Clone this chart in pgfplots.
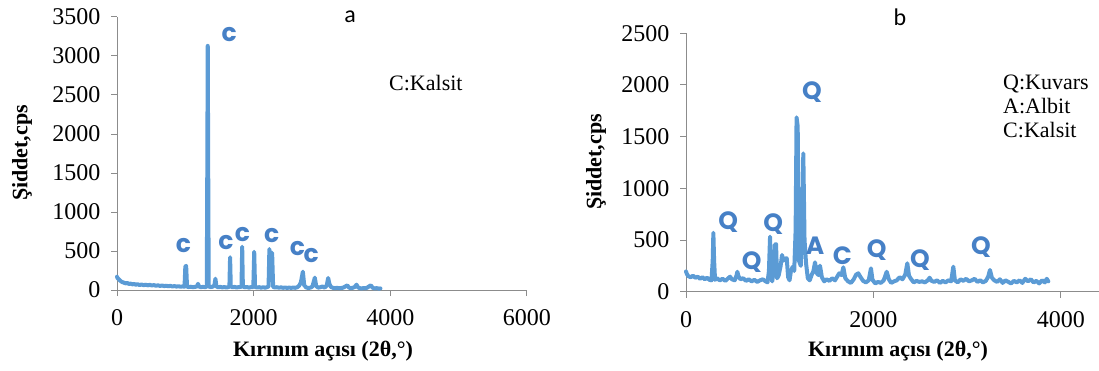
\documentclass[border=0pt]{standalone}
\usepackage{fontspec}
\setmainfont{Liberation Serif}
\newfontfamily\annfont{Poppins}
\newfontfamily\calfont{Carlito}
\usepackage{pgfplots}
\usepackage{pgfplotstable}
\pgfplotsset{compat=1.18}
\definecolor{xrd}{RGB}{91,155,213}
\definecolor{ann}{RGB}{70,128,198}
\definecolor{axgray}{RGB}{140,140,140}

\pgfplotstableread{
x y
0 170
10 150
25 140
40 125
60 110
80 100
100 95
125 85
150 90
175 78
200 82
225 72
250 78
275 68
300 74
330 64
360 70
390 62
420 68
450 60
480 66
510 58
540 63
570 55
600 60
630 52
660 58
690 50
720 55
750 48
780 53
810 46
840 50
870 44
900 48
930 42
960 46
988 42
1000 300
1012 310
1025 42
1050 38
1080 42
1110 36
1140 40
1170 45
1185 80
1200 45
1230 36
1260 40
1290 35
1314 45
1321 1500
1328 3130
1335 1500
1342 45
1370 38
1400 42
1425 60
1440 145
1455 45
1480 35
1510 40
1540 33
1570 38
1600 32
1630 37
1645 45
1655 420
1665 45
1690 35
1720 40
1750 32
1780 37
1810 40
1822 45
1832 555
1842 45
1870 35
1900 38
1930 31
1960 36
1995 38
2008 490
2020 40
2050 32
2080 36
2110 30
2140 35
2170 30
2200 38
2218 45
2230 525
2250 300
2270 478
2285 40
2310 32
2340 36
2370 29
2400 34
2430 28
2460 32
2490 27
2520 31
2550 27
2580 32
2610 28
2640 36
2665 55
2690 95
2720 235
2740 60
2770 32
2800 26
2830 30
2860 45
2895 158
2915 50
2945 30
2975 36
3005 45
3040 30
3070 60
3090 154
3108 80
3130 40
3160 28
3190 24
3220 28
3250 22
3280 26
3310 30
3340 45
3370 60
3395 30
3420 24
3450 28
3480 40
3505 68
3525 35
3550 24
3580 20
3610 25
3640 22
3670 35
3695 50
3715 60
3740 30
3770 20
3800 24
3830 18
3855 20
}\dataA

\pgfplotstableread{
x y
0 195
10 170
25 150
50 140
75 155
100 135
125 145
150 125
175 140
200 120
225 135
250 115
272 110
285 300
292 570
300 300
310 115
330 130
360 110
390 125
420 105
450 130
470 145
490 120
520 110
540 160
548 193
560 150
580 120
610 130
640 105
670 120
700 100
730 115
760 95
790 110
820 120
850 100
870 90
885 200
897 532
908 150
920 100
935 200
950 455
961 461
972 130
990 160
1010 250
1025 355
1040 300
1055 320
1075 323
1090 140
1105 110
1120 200
1139 242
1155 200
1170 600
1180 1686
1192 1600
1205 300
1225 250
1240 700
1252 1338
1265 500
1281 277
1300 130
1320 110
1340 160
1360 200
1377 284
1395 180
1415 160
1430 252
1450 140
1475 100
1500 120
1530 105
1560 130
1590 110
1620 155
1636 178
1660 160
1679 236
1700 130
1730 100
1760 85
1790 120
1815 165
1839 178
1860 145
1890 105
1920 90
1950 110
1974 226
1990 115
2020 80
2050 95
2080 85
2110 110
2142 193
2165 120
2190 85
2220 100
2250 110
2280 140
2310 120
2340 165
2362 275
2380 155
2400 125
2430 90
2460 105
2490 95
2520 100
2550 90
2580 110
2600 135
2620 105
2650 95
2680 110
2710 85
2740 105
2770 90
2800 110
2830 100
2853 242
2870 110
2900 90
2930 120
2960 105
2990 125
3020 100
3050 110
3080 125
3110 95
3140 110
3170 90
3200 105
3225 145
3244 210
3265 135
3290 110
3320 95
3350 120
3380 85
3410 110
3440 95
3470 80
3500 105
3530 90
3560 110
3590 85
3620 125
3650 100
3680 120
3710 90
3740 105
3770 80
3800 110
3830 90
3850 125
3867 100
}\dataB

\pgfplotsset{xrdax/.style={
  scale only axis,
  axis x line=bottom, axis y line=left,
  axis line style={-, axgray, line width=1pt},
  tick style={axgray, line width=1pt},
  major tick length=6pt, tick align=outside,
  ticklabel style={font=\fontsize{24}{24}\selectfont},
  /pgf/number format/assume math mode=true,
  /pgf/number format/set thousands separator={},
  xticklabel style={yshift=-10pt},
  yticklabel style={xshift=-7pt},
  clip=false,
  anchor=south west,
}}
\tikzset{annot/.style={font=\annfont\bfseries\fontsize{25}{25}\selectfont, text=ann, inner sep=0pt}}

\begin{document}
\begin{tikzpicture}[x=1pt,y=1pt]
\useasboundingbox (0,0) rectangle (1099,370);
\begin{axis}[xrdax, at={(117pt,80pt)}, width=410pt, height=273pt,
  xmin=0, xmax=6000, ymin=0, ymax=3500,
  xtick={0,2000,4000,6000}, ytick={0,500,...,3500}]
\addplot[xrd, line width=4pt, line join=round, line cap=round] table {\dataA};
\node[annot] at (axis cs:971,568) {c};
\node[annot] at (axis cs:1640,3280) {c};
\node[annot] at (axis cs:1596,611) {c};
\node[annot] at (axis cs:1835,705) {c};
\node[annot] at (axis cs:2265,696) {c};
\node[annot] at (axis cs:2640,534) {c};
\node[annot] at (axis cs:2840,436) {c};
\end{axis}
\begin{axis}[xrdax, at={(686pt,78.3pt)}, width=413pt, height=258.5pt,
  xmin=0, xmax=4408, ymin=0, ymax=2500,
  xtick={0,2000,4000}, ytick={0,500,...,2500}]
\addplot[xrd, line width=4pt, line join=round, line cap=round] table {\dataB};
\node[annot] at (axis cs:451,677) {Q};
\node[annot] at (axis cs:701,290) {Q};
\node[annot] at (axis cs:932,655) {Q};
\node[annot] at (axis cs:1345,1933) {Q};
\node[annot] at (axis cs:1377,442) {A};
\node[annot] at (axis cs:1668,345) {C};
\node[annot] at (axis cs:2035,403) {Q};
\node[annot] at (axis cs:2497,307) {Q};
\node[annot] at (axis cs:3148,435) {Q};
\end{axis}
\node[rotate=90, font=\bfseries\fontsize{22}{22}\selectfont] at (22pt,217pt) {Şiddet,cps};
\node[rotate=90, font=\bfseries\fontsize{22}{22}\selectfont] at (596pt,208pt) {Şiddet,cps};
\node[font=\bfseries\fontsize{22}{22}\selectfont] at (323pt,19pt) {Kırınım açısı (2θ,°)};
\node[font=\bfseries\fontsize{22}{22}\selectfont] at (898pt,19pt) {Kırınım açısı (2θ,°)};
\node[anchor=base, font=\calfont\fontsize{24}{24}\selectfont] at (350pt,347pt) {a};
\node[anchor=base, font=\calfont\fontsize{24}{24}\selectfont] at (900pt,344pt) {b};
\node[anchor=base west, inner sep=0pt, font=\fontsize{22}{22}\selectfont] at (389pt,279pt) {C:Kalsit};
\node[anchor=base west, inner sep=0pt, font=\fontsize{22}{22}\selectfont] at (1003pt,280.7pt) {Q:Kuvars};
\node[anchor=base west, inner sep=0pt, font=\fontsize{22}{22}\selectfont] at (1003pt,256pt) {A:Albit};
\node[anchor=base west, inner sep=0pt, font=\fontsize{22}{22}\selectfont] at (1003pt,233pt) {C:Kalsit};
\end{tikzpicture}
\end{document}
